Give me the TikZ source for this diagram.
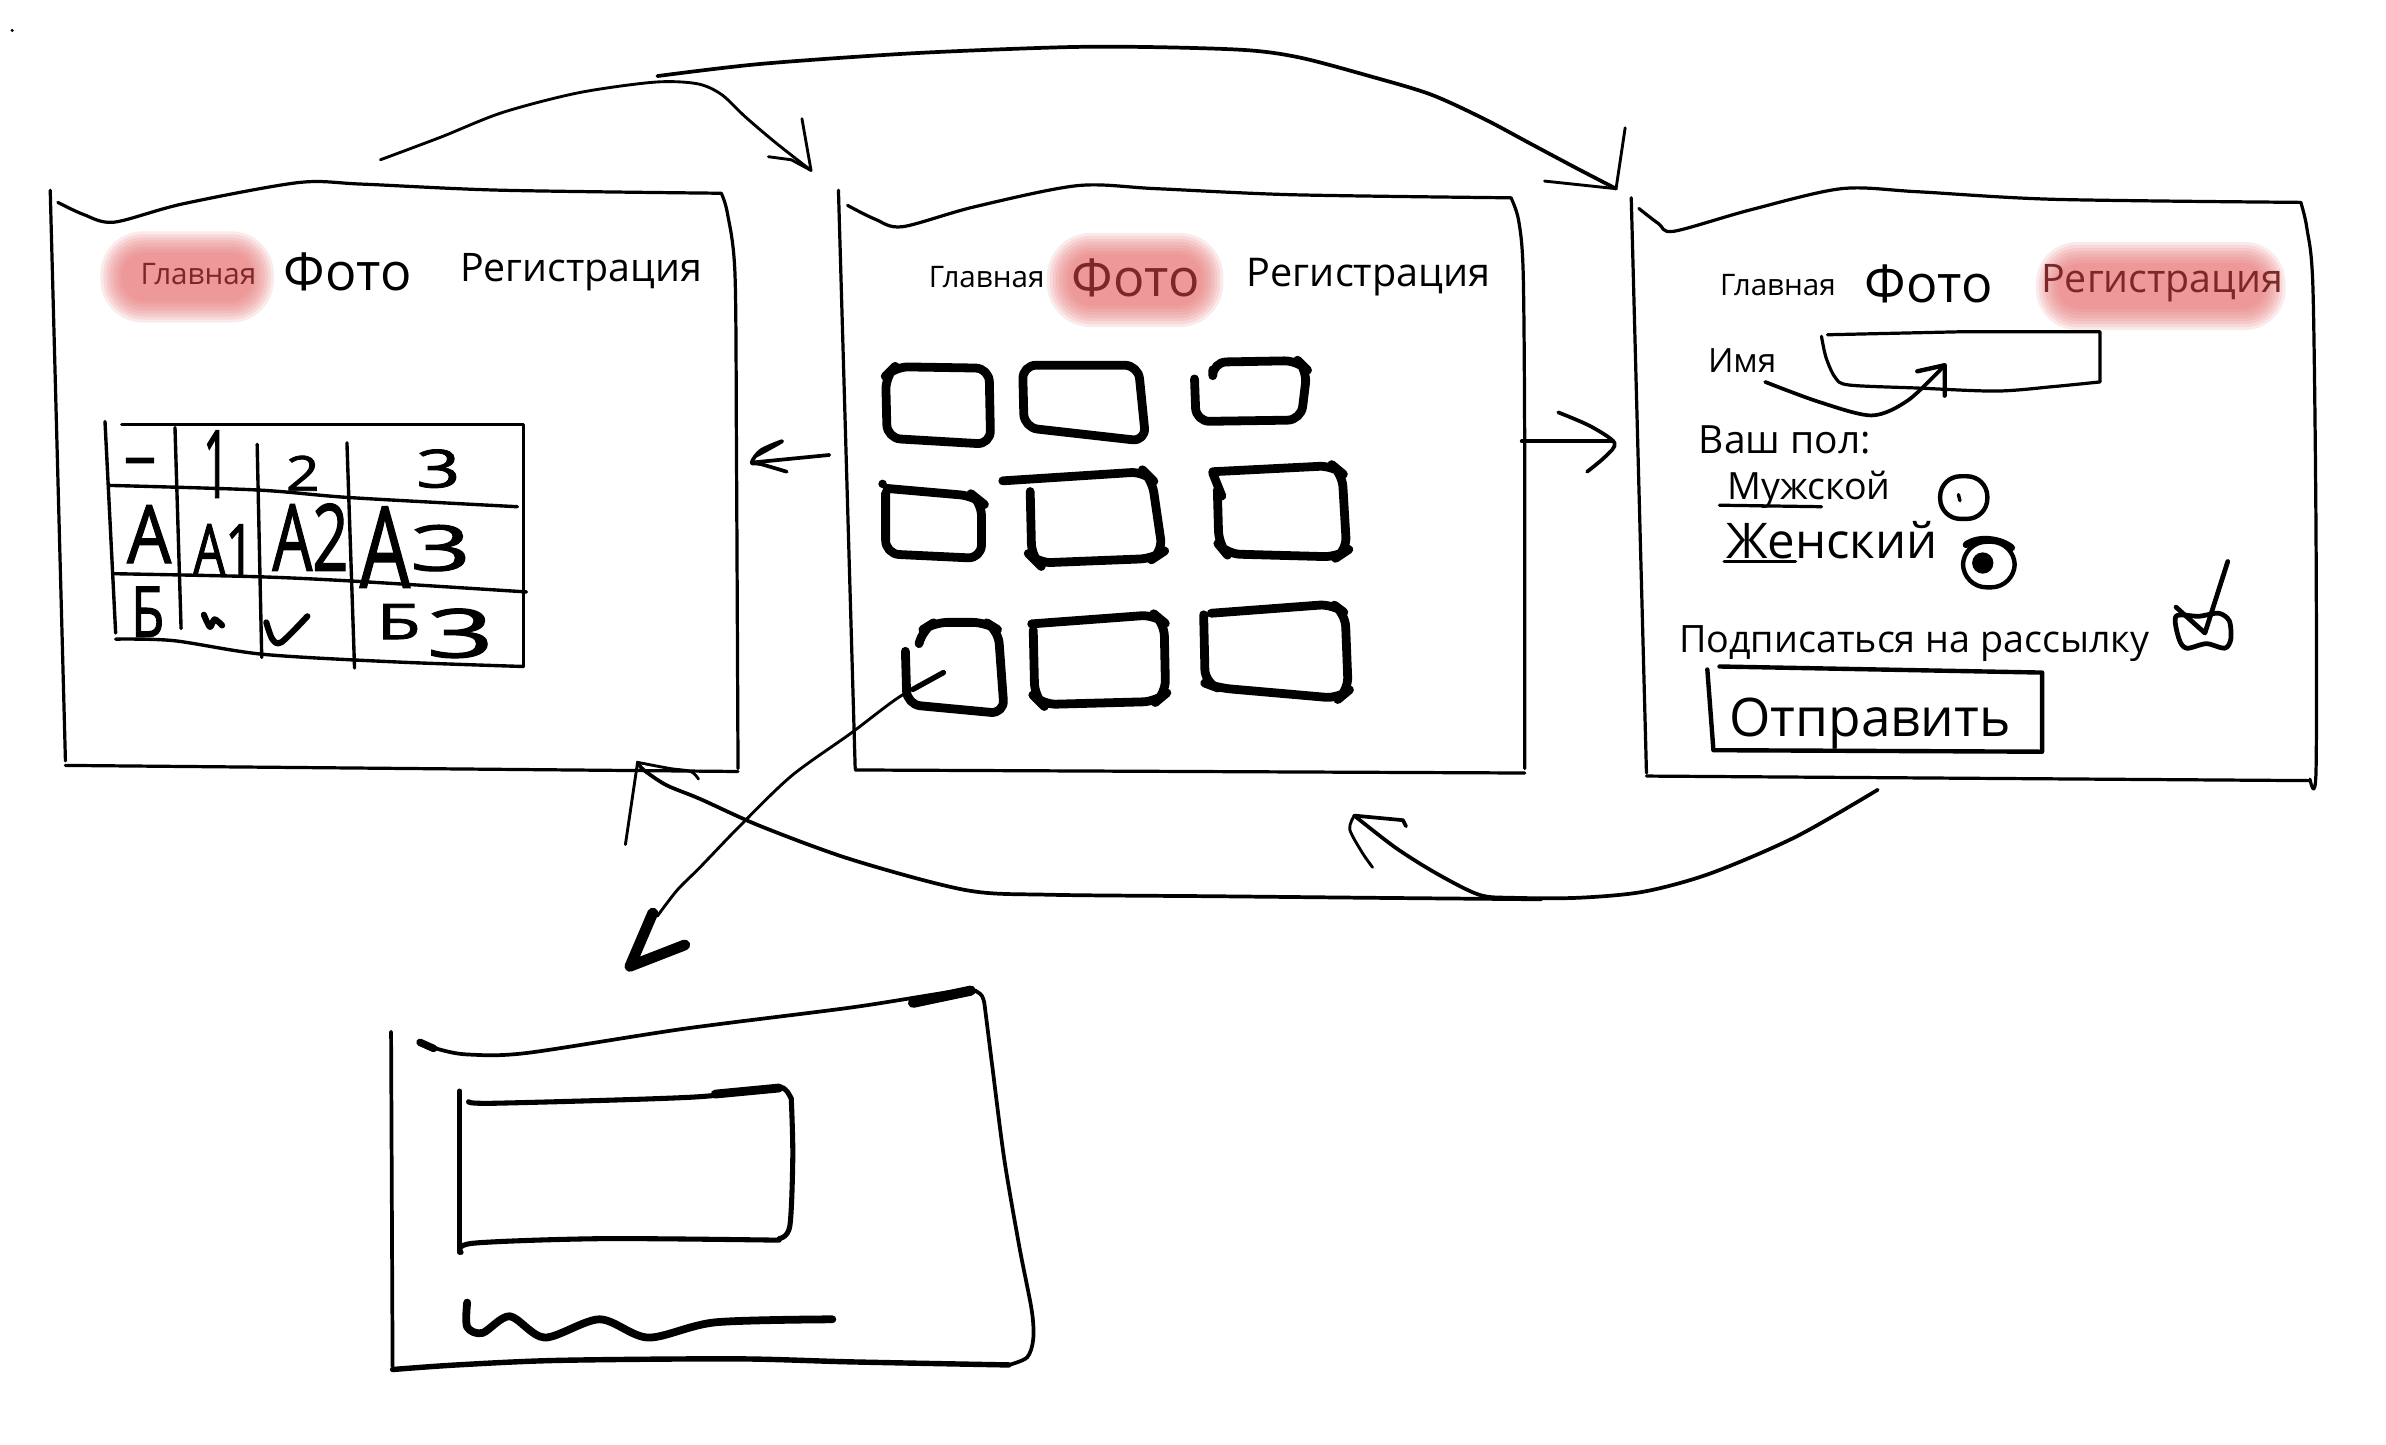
\documentclass[tikz,border=0pt]{standalone}
\usepackage{fontspec}
\setmainfont{Open Sans}
\newfontfamily\hwfont[FakeBold=1.6]{Open Sans}
\usepackage{graphicx}
\newdimen\unitpt \unitpt=0.45pt
\newcommand\fitw[2]{\resizebox{#1\unitpt}{!}{#2}}
\newcommand\fitwh[3]{\resizebox{#1\unitpt}{#2\unitpt}{\hwfont #3}}
\definecolor{hlc}{RGB}{234,118,118}
\definecolor{hltext}{RGB}{125,40,40}
\newcommand\hlblob[4]{%
  \foreach \k in {0,...,7}{%
    \pgfmathsetmacro\ex{(7-\k)*2}%
    \pgfmathsetmacro\rr{(#4/2+\ex)*0.42}%
    \fill[hlc, opacity=0.15, rounded corners=\rr pt] ({#1-#3/2-\ex},{#2-#4/2-\ex}) rectangle ({#1+#3/2+\ex},{#2+#4/2+\ex});
  }}
\tikzset{
  frame/.style={line width=0.95pt, line cap=round, line join=round},
  photo/.style={line width=2.6pt, line cap=round, line join=round, rounded corners=4pt},
  tbl/.style={line width=1pt, line cap=round, line join=round},
  hand/.style={line width=1.8pt, line cap=round, line join=round},
  arr/.style={line width=0.85pt, line cap=round, line join=round},
  txt/.style={inner sep=0pt, anchor=base west},
  hw/.style={inner sep=0pt},
}
\begin{document}
\begin{tikzpicture}[x=0.45pt,y=-0.45pt]
\useasboundingbox (0,0) rectangle (1568,949);
\fill[white] (0,0) rectangle (1568,949);

% speck
\fill (8,20) circle[radius=1.1];

% ---------- highlights ----------
\hlblob{123}{182}{86}{32}
\hlblob{746}{184}{88}{34}
\hlblob{1420}{188}{136}{30}

% ---------- panel 1 ----------
\draw[frame] (33,125) -- (43,500);
\draw[frame] plot[smooth] coordinates {(38,133) (55,141) (75,146) (120,134) (196,120) (238,121) (329,125) (474,127)};
\draw[frame] plot[smooth] coordinates {(474,127) (478,140) (483,180) (484,300) (485,505)};
\draw[frame] (43,503) -- (485,507);

\node[txt] (p1home) at (92,187) {\fitw{76}{\textcolor{hltext}{Главная}}};
\node[txt] (p1photo) at (186,191) {\fitw{84}{Фото}};
\node[txt] (p1reg) at (302,185) {\fitw{159}{Регистрация}};

% table
\draw[tbl] (69,277) -- (76,416);
\draw[tbl] (80,279) -- (344,279) -- (344,438);
\draw[tbl] plot[smooth] coordinates {(72,319) (169,322) (230,327) (340,333)};
\draw[tbl] plot[smooth] coordinates {(74,377) (169,379) (234,382) (346,389)};
\draw[tbl] plot[smooth] coordinates {(76,420) (114,421) (173,430) (260,435) (344,438)};
\draw[tbl] (115,281) -- (119,413);
\draw[tbl] (169,292) -- (172,432);
\draw[tbl] (228,291) -- (233,439);

\node[hw, anchor=base] (c00) at (92,314) {\fontsize{19pt}{19pt}\selectfont\hwfont –};
\node[hw] (c01) at (142,305) {\fitwh{17}{44}{1}};
\node[hw] (c02) at (199,311) {\fitwh{22}{23}{2}};
\node[hw] (c03) at (288,308) {\fitwh{29}{25}{3}};
\node[hw] (c10) at (98,351) {\fitwh{29}{38}{А}};
\node[hw] (c11) at (147,361) {\fitwh{40}{33}{А1}};
\node[hw] (c12) at (204,353) {\fitwh{50}{44}{А2}};
\node[hw, anchor=base west] (c13) at (236,386) {\fitwh{33}{53}{А}\raisebox{11\unitpt}{\fitwh{40}{30}{3}}};
\node[hw] (c20) at (97,402) {\fitwh{22}{33}{Б}};
\node[hw, anchor=base west] (c23) at (247,420) {\fitwh{29}{23}{Б}\hspace{4\unitpt}\raisebox{-12\unitpt}{\fitwh{44}{32}{3}}};
\draw[hand] plot[smooth] coordinates {(134,404) (138,412) (141,407) (146,411)};
\draw[hand] plot[smooth] coordinates {(175,409) (179,420) (185,422) (202,405)};

% ---------- panel 2 ----------
\draw[frame] (551,125) -- (562,505);
\draw[frame] plot[smooth] coordinates {(557,135) (575,144) (593,149) (640,136) (708,122) (760,124) (850,128) (993,130)};
\draw[frame] plot[smooth] coordinates {(993,130) (998,145) (1001,180) (1002,300) (1002,505)};
\draw[frame] (562,506) -- (1002,508);

\node[txt] (p2home) at (610,189) {\fitw{76}{Главная}};
\node[txt] (p2photo) at (704,195) {\fitw{84}{\textcolor{hltext}{Фото}}};
\node[txt] (p2reg) at (819,188) {\fitw{160}{Регистрация}};

% photos
\draw[photo] (582,247) -- (583,288) -- (651,292) -- (650,242) -- (588,241) -- cycle;
\draw[photo] (672,240) -- (673,281) -- (753,290) -- (748,240) -- cycle;
\draw[photo] (785,249) -- (786,277) -- (855,276) -- (859,243) -- (853,237) -- (797,238) -- (797,243);
\draw[photo] (582,324) -- (582,364) -- (645,367) -- (645,330) -- (640,326) -- (583,321);
\fill (580,318) circle[radius=2.8];
\draw[photo] (677,323) -- (678,366) -- (682,370) -- (758,367) -- (764,363) -- (757,315) -- (752,310) -- (659,316);
\draw[photo] (800,322) -- (801,358) -- (806,364) -- (879,366) -- (885,362) -- (882,311) -- (876,306) -- (797,310);
\draw[photo, rounded corners=0pt] (797,311) -- (803,326);
\draw[photo] (595,428) -- (596,463) -- (660,469) -- (656,414) -- (648,409) -- (614,409) -- (606,414) -- (604,423);
\draw[photo] (679,414) -- (680,458) -- (685,463) -- (760,461) -- (766,456) -- (765,409) -- (759,404) -- (678,410);
\draw[photo] (791,404) -- (792,449) -- (800,452) -- (880,459) -- (886,454) -- (884,403) -- (876,397) -- (796,403);

% ---------- panel 3 ----------
\draw[frame] (1072,130) -- (1082,508);
\draw[frame] plot[smooth] coordinates {(1077,137) (1090,147) (1100,152) (1150,138) (1210,124) (1260,126) (1350,131) (1512,133)};
\draw[frame] plot[smooth] coordinates {(1512,133) (1516,150) (1520,190) (1522,350) (1522,507) (1518,512)};
\draw[frame] (1082,510) -- (1518,513);

\node[txt] (p3home) at (1130,194) {\fitw{76}{Главная}};
\node[txt] (p3photo) at (1225,199) {\fitw{84}{Фото}};
\node[txt] (p3reg) at (1341,192) {\fitw{159}{\textcolor{hltext}{Регистрация}}};

\node[txt] (name) at (1122,245) {\fitw{45}{Имя}};
\draw[frame] plot[smooth] coordinates {(1197,221) (1200,235) (1206,248) (1215,253) (1260,255) (1312,257) (1350,254) (1380,251)};
\draw[frame] (1380,251) -- (1380,218) -- (1290,218) -- (1201,220);
\coordinate (nmS) at (1160,251);
\coordinate (nmE) at (1278,240);
\draw[arr, line width=1.1pt] plot[smooth] coordinates {(nmS) (1195,264) (1230,273) (1254,263) (nmE)};
\draw[arr, line width=1.3pt] (1260,244) -- (nmE) -- (1278,260);

\node[txt] (gender) at (1116,298) {\fitw{113}{Ваш пол:}};
\node[txt] (male) at (1135,328) {\fitw{107}{Мужской}};
\draw[frame] (1130,332) -- (1197,333);
\draw[frame, line width=1.3pt, rounded corners=6pt] (1275,313) rectangle (1306,341);
\draw[line width=1pt, line cap=round] (1287,325) -- (1288,329);
\node[txt] (female) at (1134,367) {\fitw{139}{Женский}};
\draw[frame] (1133,369) -- (1180,369);
\draw[frame, line width=1.3pt, rounded corners=7pt] (1290,356) rectangle (1324,386);
\draw[line width=2pt, line cap=round] (1292,358) .. controls (1300,352) and (1315,354) .. (1322,360);
\fill (1303,370) circle[radius=7];

\node[txt] (subscr) at (1103,429) {\fitw{309}{Подписаться на рассылку}};
\draw[frame, line width=1.4pt] plot[smooth cycle] coordinates {(1430,405) (1432,420) (1437,426) (1450,423) (1462,426) (1466,420) (1465,408) (1458,403) (1445,405)};
\draw[frame, line width=1.4pt] (1430,399) -- (1449,416) -- (1464,369);

\draw[frame, line width=1.3pt] (1122,440) -- (1126,493) -- (1342,494) -- (1342,442) -- (1130,438);
\node[txt] (send) at (1136,484) {\fitw{185}{Отправить}};

% ---------- detail panel ----------
\draw[frame, line width=1.1pt] (257,678) -- (258,898);
\draw[frame, line width=1.1pt] plot[smooth] coordinates {(276,685) (290,690) (308,693) (346,692) (450,676) (560,662) (631,651) (644,653) (647,660)};
\draw[line width=2.2pt, line cap=round] (276,685) -- (285,689);
\draw[line width=3pt, line cap=round] (600,659) -- (638,651);
\draw[frame, line width=1.1pt] plot[smooth] coordinates {(647,660) (652,700) (660,762) (670,820) (678,861) (679,880) (675,892) (663,897)};
\draw[frame, line width=1.6pt] plot[smooth] coordinates {(258,900) (300,897) (367,894) (484,893) (560,895) (663,897)};
\draw[frame, line width=1.5pt] (302,717) -- (302,823);
\draw[frame, line width=1.5pt] plot[smooth] coordinates {(308,724) (326,725) (455,721) (508,715) (516,716) (520,722)};
\draw[line width=2.6pt, line cap=round] (470,719) -- (512,715);
\draw[frame, line width=1.5pt] plot[smooth] coordinates {(520,722) (521,760) (519,806) (512,814)};
\draw[frame, line width=1.5pt] plot[smooth] coordinates {(512,815) (396,814) (311,817) (303,823)};
\draw[line width=2.3pt, line cap=round, line join=round] plot[smooth] coordinates {(307,856) (307,872) (317,876) (335,865) (358,879) (394,867) (426,879) (470,869) (547,867)};

% ---------- connectors ----------
% A: panel 1 -> panel 2
\coordinate (aS) at (250,105);
\coordinate (aE) at (533,112);
\draw[arr] plot[smooth] coordinates {(aS) (290,90) (330,74) (380,61) (430,54) (458,55) (474,62) (490,77) (510,94) (aE)};
\draw[arr] (527,78) -- (aE) -- (520,105) -- (505,103);
% B: panel 1 -> panel 3
\coordinate (bS) at (432,50);
\coordinate (bE) at (1062,124);
\draw[arr, line width=1.1pt] plot[smooth] coordinates {(bS) (500,42) (600,35) (700,31) (760,31) (820,33) (855,38) (900,50) (940,62) (975,78) (1005,94) (1035,110) (bE)};
\draw[arr] (1068,84) -- (bE) -- (1015,119);
% C: panel 2 -> panel 1
\coordinate (cS) at (545,299);
\coordinate (cE) at (494,304);
\draw[arr, line width=1.1pt] (cS) -- (cE);
\draw[arr, line width=1.1pt] plot[smooth] coordinates {(517,310) (500,305) (cE) (500,296) (514,290) (496,300)};
% D: panel 2 -> panel 3
\coordinate (dS) at (1000,290);
\coordinate (dE) at (1060,290);
\draw[arr, line width=1.1pt] (dS) -- (dE);
\draw[arr, line width=1.1pt] plot[smooth] coordinates {(1024,271) (1045,280) (1061,291) (1055,300) (1043,310)};
% E: panel 3 -> panel 2
\coordinate (eS) at (1234,519);
\coordinate (eE) at (890,536);
\draw[arr, line width=1.1pt] plot[smooth] coordinates {(eS) (1180,550) (1124,574) (1080,586) (1037,590) (994,590) (972,588) (944,574) (917,557) (eE)};
\draw[arr, line width=1.1pt] (eE) -- (922,539) -- (924,543);
\draw[arr] plot[smooth] coordinates {(eE) (887,545) (895,560) (902,570)};
% F: panel 3 -> panel 1
\coordinate (fS) at (1013,591);
\coordinate (fE) at (419,501);
\draw[arr, line width=1.1pt] plot[smooth] coordinates {(fS) (900,590) (800,589) (690,588) (635,585) (560,565) (500,543) (460,525) (438,516) (423,506) (fE)};
\draw[arr] plot[smooth] coordinates {(fE) (440,505) (454,507) (459,512)};
\draw[arr] (fE) -- (411,555);
% G: photo -> detail
\coordinate (gS) at (620,442);
\coordinate (gE) at (414,635);
\draw[arr, line width=1.6pt] (gS) -- (600,453);
\draw[arr] plot[smooth] coordinates {(gS) (591,458) (559,482) (520,510) (486,543) (460,570) (445,585) (432,602)};
\draw[line width=3.2pt, line cap=round, line join=round] (429,600) -- (gE) -- (450,621);
\end{tikzpicture}
\end{document}
